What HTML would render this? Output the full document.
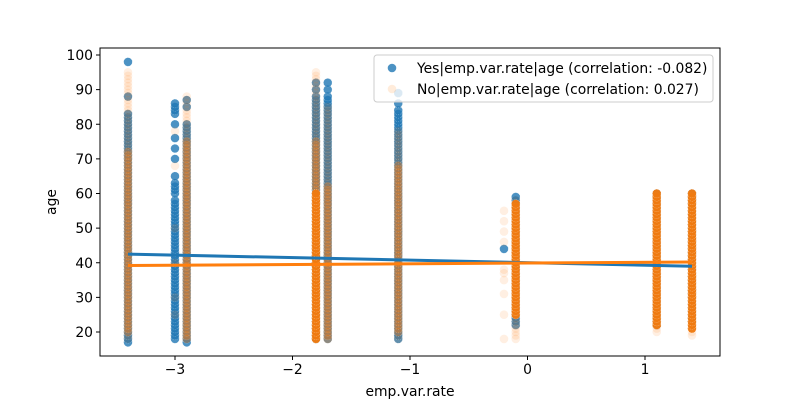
<!DOCTYPE html>
<html><head><meta charset="utf-8"><style>
body{margin:0;background:#fff;width:800px;height:400px;overflow:hidden}
svg{display:block;font-family:"DejaVu Sans","Liberation Sans",sans-serif}
</style></head><body>
<svg id="chart" width="800" height="400">
<rect x="0" y="0" width="800" height="400" fill="#fff"/>
<g id="marks"></g>
<g id="axes"></g>
</svg>
<script>
// ---- data ----
const columns = [-3.4, -3.0, -2.9, -1.8, -1.7, -1.1, -0.2, -0.1, 1.1, 1.4];
const yesMin = [17, 18, 17, 18, 18, 18, 0, 22, 22, 23];
const yesMax = [83, 58, 80, 88, 88, 84, 0, 59, 60, 60];
const yesExtra = [[88, 98], [60, 61, 62, 63, 65, 70, 73, 76, 80, 83, 84, 85, 86], [85, 87], [90, 92], [90, 92], [86, 89], [44], [], [], []];
const noFaintMin = [18, 0, 18, 18, 18, 18, 0, 18, 20, 19];
const noFaintMax = [95, 0, 88, 95, 85, 78, 0, 58, 60, 60];
const noFaintExtra = [[], [25, 30, 40, 50, 68, 78], [], [], [], [], [18, 25, 31, 35, 37, 38, 46, 49, 52, 55], [], [], []];
const noMedMin = [20, 0, 18, 18, 18, 20, 0, 25, 22, 21];
const noMedMax = [72, 0, 75, 75, 62, 68, 0, 57, 60, 60];
const noCoreMin = [0, 0, 0, 18, 0, 0, 0, 25, 22, 21];
const noCoreMax = [0, 0, 0, 60, 0, 0, 0, 57, 60, 60];
const yesLine = [42.5, 39.0];
const noLine = [39.2, 40.2];
const xTicks = [-3, -2, -1, 0, 1];
const yTicks = [20, 30, 40, 50, 60, 70, 80, 90, 100];

// ---- scales ----
const X0 = 100, X1 = 720, Y0 = 48, Y1 = 356;
const FS = 13.9;
function sx(v){ return 527.5 + v * 117.5; }
function sy(v){ return 332 - (v - 20) * 3.4625; }
const NS = "http://www.w3.org/2000/svg";
const marks = document.getElementById('marks');
const axes = document.getElementById('axes');
function mk(tag, attrs, parent){
  const e = document.createElementNS(NS, tag);
  for (const k in attrs) e.setAttribute(k, attrs[k]);
  parent.appendChild(e); return e;
}
function dot(x, age, color, op, name){
  const c = mk('circle', {cx: sx(x), cy: sy(age), r: 4.3, fill: color, 'fill-opacity': op, stroke: '#fff', 'stroke-opacity': op * 0.5, 'stroke-width': 0.6, 'stroke-dasharray': '1 1'}, marks);
  
  
}
// blue (Yes)
columns.forEach((x, i) => {
  if (yesMax[i] > 0) for (let a = yesMin[i]; a <= yesMax[i]; a++) dot(x, a, '#1f77b4', 0.8, 'yes-point');
  yesExtra[i].forEach(a => dot(x, a, '#1f77b4', 0.8, 'yes-point'));
});
// orange (No)
columns.forEach((x, i) => {
  if (noFaintMax[i] > 0) for (let a = noFaintMin[i]; a <= noFaintMax[i]; a++) dot(x, a, '#ff7f0e', 0.12, 'no-point');
  noFaintExtra[i].forEach(a => dot(x, a, '#ff7f0e', 0.12, 'no-point'));
  if (noMedMax[i] > 0) for (let a = noMedMin[i]; a <= noMedMax[i]; a++) dot(x, a, '#ff7f0e', 0.28, 'no-point');
  if (noCoreMax[i] > 0) for (let a = noCoreMin[i]; a <= noCoreMax[i]; a++) dot(x, a, '#ef7a10', 0.95, 'no-point');
});
// regression lines
const xa = columns[0], xb = columns[columns.length - 1];
const l1 = mk('line', {x1: sx(xa), y1: sy(yesLine[0]), x2: sx(xb), y2: sy(yesLine[1]), stroke: '#1f77b4', 'stroke-width': 3}, marks);


const l2 = mk('line', {x1: sx(xa), y1: sy(noLine[0]), x2: sx(xb), y2: sy(noLine[1]), stroke: '#ff7f0e', 'stroke-width': 3}, marks);



// axes frame
const fr = mk('rect', {x: X0, y: Y0, width: X1 - X0, height: Y1 - Y0, fill: 'none', stroke: '#000', 'stroke-width': 1}, axes);


xTicks.forEach(t => {
  const x = sx(t);
  const tl = mk('line', {x1: x, y1: Y1, x2: x, y2: Y1 + 4, stroke: '#000'}, axes);
  
  
  const tx = mk('text', {x: x, y: Y1 + 18, 'text-anchor': 'middle', 'font-size': FS}, axes);
  tx.textContent = t < 0 ? '\u2212' + Math.abs(t) : String(t);
  
  
});
yTicks.forEach(t => {
  const y = sy(t);
  const tl = mk('line', {x1: X0 - 4, y1: y, x2: X0, y2: y, stroke: '#000'}, axes);
  
  
  const tx = mk('text', {x: X0 - 7, y: y + 5, 'text-anchor': 'end', 'font-size': FS}, axes);
  tx.textContent = String(t);
  
  
});
const xt = mk('text', {x: 410, y: 396, 'text-anchor': 'middle', 'font-size': FS}, axes);
xt.textContent = 'emp.var.rate';


const yt = mk('text', {x: 0, y: 0, 'text-anchor': 'middle', 'font-size': FS, transform: 'translate(56,202) rotate(-90)'}, axes);
yt.textContent = 'age';



// legend
const lg = mk('g', {}, axes);


mk('rect', {x: 374, y: 55, width: 339, height: 47, rx: 3, fill: '#fff', 'fill-opacity': 0.8, stroke: '#ccc'}, lg);
const legendLabels = ['Yes|emp.var.rate|age (correlation: -0.082)', 'No|emp.var.rate|age (correlation: 0.027)'];
const legendColors = ['#1f77b4', '#ff7f0e'];
const legendOps = [0.8, 0.15];
legendLabels.forEach((s, i) => {
  const y = 68 + i * 21;
  const m = mk('circle', {cx: 392, cy: y, r: 4.3, fill: legendColors[i], 'fill-opacity': legendOps[i]}, lg);
  
  
  const t = mk('text', {x: 417, y: y + 5, 'font-size': FS}, lg);
  t.textContent = s;
  
  
});
</script>
</body></html>
